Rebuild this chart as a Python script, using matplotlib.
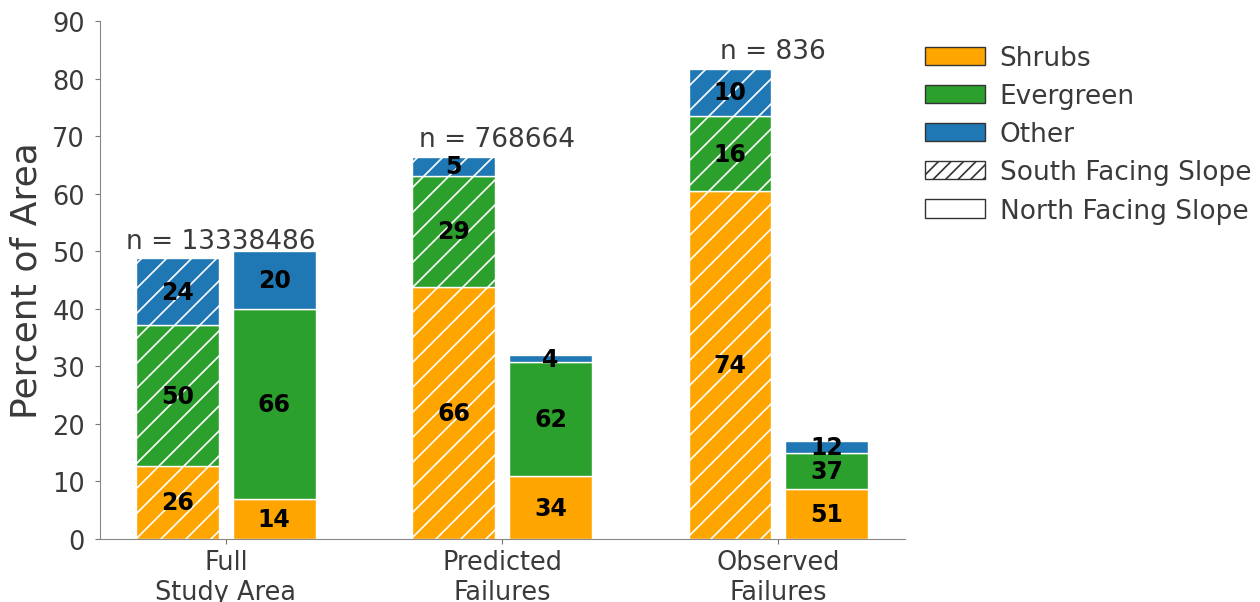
import numpy as np
import matplotlib
matplotlib.use("Agg")
import matplotlib.pyplot as plt
from matplotlib.patches import Patch

groups = ["Full\nStudy Area", "Predicted\nFailures", "Observed\nFailures"]
n_labels = ["n = 13338486", "n = 768664", "n = 836"]
classes = ["Shrubs", "Evergreen", "Other"]

# bar segment heights (percent of area)
south_shrubs = [12.7, 43.8, 60.4]
south_evergreen = [24.4, 19.3, 13.1]
south_other = [11.7, 3.3, 8.2]
north_shrubs = [7.0, 10.9, 8.7]
north_evergreen = [33.0, 19.8, 6.3]
north_other = [10.0, 1.3, 2.0]

# percent labels written inside each segment
south_pct = [[26, 66, 74], [50, 29, 16], [24, 5, 10]]
north_pct = [[14, 34, 51], [66, 62, 37], [20, 4, 12]]

colors = ["orange", "tab:green", "tab:blue"]
text_col = "#3a3a3a"

# rendered at dpi 75 so the hatch spacing comes out wider; sizes scaled back up
DPI = 75
S = 100 / DPI

plt.rcParams['hatch.linewidth'] = 1.2 * S

fig = plt.figure(figsize=(1260 / DPI, 603 / DPI), dpi=DPI)
ax = fig.add_axes([0.079, 0.1045, 0.639, 0.859])

x = np.arange(len(groups))
w = 0.3
off = 0.175

south = [south_shrubs, south_evergreen, south_other]
north = [north_shrubs, north_evergreen, north_other]

bottom_s = np.zeros(3)
bottom_n = np.zeros(3)
for k in range(3):
    hs = np.array(south[k])
    hn = np.array(north[k])
    ax.bar(x - off, hs, w, bottom=bottom_s, color=colors[k], edgecolor="white",
           hatch="/", linewidth=1 * S)
    ax.bar(x + off, hn, w, bottom=bottom_n, color=colors[k], edgecolor="white",
           linewidth=1 * S)
    for i in range(3):
        ax.text(x[i] - off, bottom_s[i] + hs[i] / 2, str(south_pct[k][i]),
                ha="center", va="center", fontsize=17 * S, fontweight="bold", color="black")
        ax.text(x[i] + off, bottom_n[i] + hn[i] / 2, str(north_pct[k][i]),
                ha="center", va="center", fontsize=17 * S, fontweight="bold", color="black")
    bottom_s += hs
    bottom_n += hn

for i in range(3):
    ax.text(x[i] - 0.02, bottom_s[i] + 0.8, n_labels[i], ha="center", va="bottom",
            fontsize=19 * S, color=text_col)

ax.set_ylim(0, 90)
ax.set_yticks(np.arange(0, 91, 10))
ax.set_xticks(x)
ax.set_xticklabels(groups)
ax.tick_params(axis="both", labelsize=18.5 * S, labelcolor=text_col, colors="#777777",
               length=3.5 * S, width=0.8 * S, pad=3.5 * S)
ax.tick_params(axis="y", pad=7 * S)
ax.set_ylabel("Percent of Area", fontsize=26 * S, color=text_col, labelpad=6 * S)
ax.spines["top"].set_visible(False)
ax.spines["right"].set_visible(False)
for side in ["left", "bottom"]:
    ax.spines[side].set_color("#888888")
    ax.spines[side].set_linewidth(0.8 * S)

handles = [Patch(facecolor=c, edgecolor="#333333", linewidth=S, label=l)
           for c, l in zip(colors, classes)]
handles.append(Patch(facecolor="white", edgecolor="#333333", linewidth=S, hatch="//",
                     label="South Facing Slope"))
handles.append(Patch(facecolor="white", edgecolor="#333333", linewidth=S,
                     label="North Facing Slope"))
leg = fig.legend(handles=handles, loc="upper left", bbox_to_anchor=(0.715, 0.963),
                 frameon=False, fontsize=19 * S, handlelength=2.27, handletextpad=0.57,
                 labelspacing=0.46)
for t in leg.get_texts():
    t.set_color(text_col)

fig.savefig("out.png", dpi=DPI)
